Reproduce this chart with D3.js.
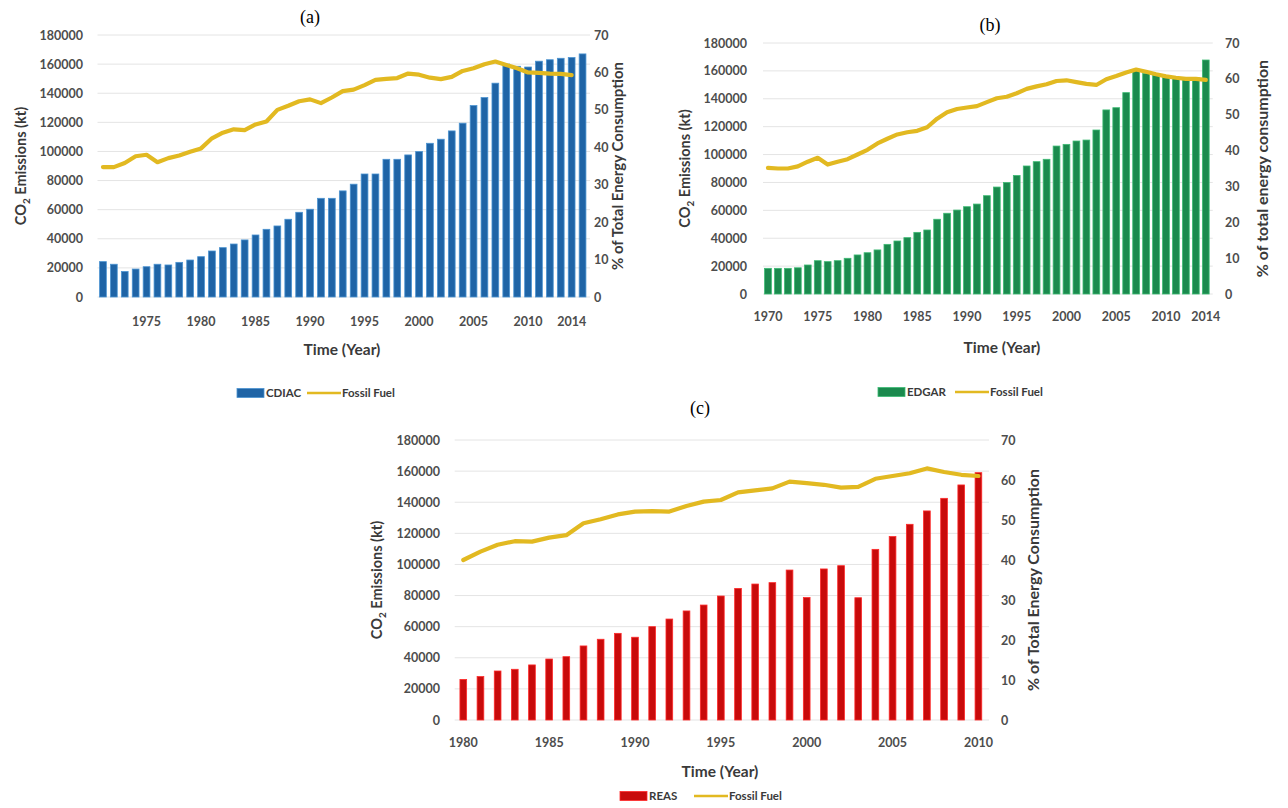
<!DOCTYPE html>
<html><head><meta charset="utf-8">
<script src="https://cdn.jsdelivr.net/npm/d3@7"></script>
<style>body{margin:0;background:#fff}</style>
</head><body>
<svg id="c" width="1288" height="808"></svg>
<script>
// ---------- DATA ----------
const cdiacYears = [1971,1972,1973,1974,1975,1976,1977,1978,1979,1980,1981,1982,1983,1984,1985,1986,1987,1988,1989,1990,1991,1992,1993,1994,1995,1996,1997,1998,1999,2000,2001,2002,2003,2004,2005,2006,2007,2008,2009,2010,2011,2012,2013,2014,2015];
const cdiacValues = [24300,22500,17500,19200,20800,22500,22000,23800,25400,27700,31600,33900,36400,39200,42600,46500,48800,53400,58200,60300,67800,67800,72900,77500,84500,84500,94600,94600,97600,99900,105600,108400,114100,119400,131500,137000,146900,160000,158500,158000,162000,163000,164000,164500,167000];
const fossilYearsA = [1971,1972,1973,1974,1975,1976,1977,1978,1979,1980,1981,1982,1983,1984,1985,1986,1987,1988,1989,1990,1991,1992,1993,1994,1995,1996,1997,1998,1999,2000,2001,2002,2003,2004,2005,2006,2007,2008,2009,2010,2011,2012,2013,2014];
const fossilA = [34.7,34.7,35.8,37.6,38.0,36.0,37.1,37.8,38.8,39.7,42.4,43.9,44.8,44.6,46.1,46.9,50.0,51.1,52.3,52.8,51.8,53.3,55.0,55.4,56.6,58.0,58.3,58.5,59.7,59.4,58.6,58.2,58.8,60.4,61.1,62.2,62.9,62.0,61.1,60.0,59.9,59.7,59.6,59.3];
const ticksA = [1975,1980,1985,1990,1995,2000,2005,2010,2014];

const edgarYears = [1970,1971,1972,1973,1974,1975,1976,1977,1978,1979,1980,1981,1982,1983,1984,1985,1986,1987,1988,1989,1990,1991,1992,1993,1994,1995,1996,1997,1998,1999,2000,2001,2002,2003,2004,2005,2006,2007,2008,2009,2010,2011,2012,2013,2014];
const edgarValues = [18400,18400,18400,18800,20800,23900,23200,23900,25600,28000,29600,31600,35600,38000,40400,44200,45900,53600,57900,60200,62600,64500,70500,76700,79900,85000,91800,94900,96600,106100,107300,109700,110400,117600,132000,133600,144400,161100,158200,157000,155800,154700,153900,155000,167800];
const fossilB = [35.2,35.0,35.0,35.6,36.9,38.0,36.1,36.9,37.6,38.9,40.2,42.0,43.3,44.5,45.1,45.5,46.5,48.9,50.7,51.6,52.0,52.4,53.5,54.6,55.0,56.0,57.2,57.9,58.5,59.4,59.6,59.1,58.6,58.3,59.9,60.8,61.8,62.6,62.0,61.3,60.7,60.3,60.0,60.0,59.7];
const ticksB = [1970,1975,1980,1985,1990,1995,2000,2005,2010,2014];

const reasYears = [1980,1981,1982,1983,1984,1985,1986,1987,1988,1989,1990,1991,1992,1993,1994,1995,1996,1997,1998,1999,2000,2001,2002,2003,2004,2005,2006,2007,2008,2009,2010];
const reasValues = [26100,27900,31500,32600,35400,39200,40700,47600,51900,55700,53200,60000,64900,70100,73900,79700,84600,87400,88300,96400,78700,97100,99200,78600,109700,117900,125800,134400,142500,151100,159000];
const fossilC = [40.0,42.1,43.8,44.7,44.6,45.6,46.2,49.2,50.2,51.4,52.1,52.2,52.1,53.5,54.6,55.0,56.9,57.4,57.9,59.6,59.2,58.8,58.1,58.3,60.3,61.0,61.7,62.9,62.0,61.3,61.0];
const ticksC = [1980,1985,1990,1995,2000,2005,2010];

const leftTicks = [0,20000,40000,60000,80000,100000,120000,140000,160000,180000];
const rightTicks = [0,10,20,30,40,50,60,70];

// ---------- DRAW ----------
const svg = d3.select("#c");
const SANS = "Lato, 'Open Sans', sans-serif";
const LINE_COLOR = "#e2b921";
const TICK_COLOR = "#4d4d4d";
const TITLE_COLOR = "#3a3a3a";

function panel(o) {
  const g = svg.append("g");
  const x = d3.scaleBand().domain(o.years).range([o.x0, o.x1]).paddingInner(o.pad).paddingOuter(o.pad / 2);
  const y = d3.scaleLinear().domain([0, 180000]).range([o.yBot, o.yTop]);
  const y2 = d3.scaleLinear().domain([0, 70]).range([o.yBot, o.yTop]);

  g.append("g").selectAll("line").data(leftTicks).join("line")
    .attr("x1", o.x0).attr("x2", o.x1 + 2)
    .attr("y1", d => y(d)).attr("y2", d => y(d))
    .attr("stroke", "#e4e4e4").attr("stroke-width", 1);

  g.append("g").selectAll("rect").data(o.values).join("rect")
    .attr("x", (d, i) => x(o.years[i]))
    .attr("width", x.bandwidth())
    .attr("y", d => y(d))
    .attr("height", d => o.yBot - y(d))
    .attr("fill", o.fill).attr("stroke", o.edge).attr("stroke-width", 0.8);

  const line = d3.line()
    .x((d, i) => x(o.lineYears[i]) + x.bandwidth() / 2)
    .y(d => y2(d)).curve(d3.curveLinear);
  g.append("path").datum(o.line).attr("d", line)
    .attr("fill", "none").attr("stroke", LINE_COLOR).attr("stroke-width", 4.2)
    .attr("stroke-linejoin", "round").attr("stroke-linecap", "round");

  const styleTicks = sel => sel.selectAll("text").attr("font-family", SANS).attr("font-weight", 700)
    .attr("font-size", 12.5).attr("fill", TICK_COLOR);

  const la = g.append("g").attr("transform", `translate(${o.leftLabelX},0)`)
    .call(d3.axisLeft(y).tickValues(leftTicks).tickSize(0).tickPadding(0).tickFormat(d3.format("d")));
  la.select(".domain").remove(); styleTicks(la);

  const ra = g.append("g").attr("transform", `translate(${o.rightLabelX},0)`)
    .call(d3.axisRight(y2).tickValues(rightTicks).tickSize(0).tickPadding(0));
  ra.select(".domain").remove(); styleTicks(ra);

  const ba = g.append("g").attr("transform", `translate(0,${o.yBot})`)
    .call(d3.axisBottom(x).tickValues(o.ticks).tickSize(0).tickPadding(o.xPad));
  ba.select(".domain").remove(); styleTicks(ba);

  const yt = g.append("text")
    .attr("transform", `translate(${o.yTitleX},${(o.yTop + o.yBot) / 2}) rotate(-90)`)
    .attr("text-anchor", "middle").attr("font-family", SANS).attr("font-weight", 700)
    .attr("font-size", 14.5).attr("fill", TITLE_COLOR);
  yt.append("tspan").text("CO");
  yt.append("tspan").text("2").attr("font-size", 10).attr("dy", 4);
  yt.append("tspan").text(" Emissions (kt)").attr("dy", -4);

  g.append("text")
    .attr("transform", `translate(${o.rTitleX},${(o.yTop + o.yBot) / 2}) rotate(-90)`)
    .attr("text-anchor", "middle").attr("font-family", SANS).attr("font-weight", 700)
    .attr("font-size", o.rSize).attr("fill", TITLE_COLOR).text(o.rTitle);

  g.append("text").attr("x", o.xTitle[0]).attr("y", o.xTitle[1])
    .attr("text-anchor", "middle").attr("font-family", SANS).attr("font-weight", 700)
    .attr("font-size", 15.5).attr("fill", TITLE_COLOR).text("Time (Year)");

  g.append("text").attr("x", o.letter[0]).attr("y", o.letter[1])
    .attr("text-anchor", "middle").attr("font-family", "'Liberation Serif', serif")
    .attr("font-size", 18).attr("fill", "#000").text(o.letterText);

  const L = o.legend;
  g.append("rect").attr("x", L.x).attr("y", L.y - 4.5).attr("width", 27).attr("height", 9)
    .attr("fill", o.fill).attr("stroke", o.edge).attr("stroke-width", 0.8);
  g.append("text").attr("x", L.x + 29).attr("y", L.y + 4).attr("font-family", SANS)
    .attr("font-weight", 700).attr("font-size", 11.5).attr("fill", TITLE_COLOR).text(o.name);
  g.append("line").attr("x1", L.lx).attr("x2", L.lx + 34).attr("y1", L.y).attr("y2", L.y)
    .attr("stroke", LINE_COLOR).attr("stroke-width", 2.5);
  g.append("text").attr("x", L.lx + 35).attr("y", L.y + 4).attr("font-family", SANS)
    .attr("font-weight", 700).attr("font-size", 11.5).attr("fill", TITLE_COLOR).text("Fossil Fuel");
}

panel({
  years: cdiacYears, values: cdiacValues, lineYears: fossilYearsA, line: fossilA, ticks: ticksA,
  x0: 97.5, x1: 588, yTop: 35, yBot: 297, pad: 0.38,
  fill: "#1f64a6", edge: "#4b93d1", name: "CDIAC",
  leftLabelX: 83, rightLabelX: 594, xPad: 20,
  yTitleX: 26, rTitleX: 623, rTitle: "% of Total Energy Consumption", rSize: 15,
  xTitle: [342, 355], letter: [310, 23], letterText: "(a)",
  legend: {x: 237, lx: 307, y: 393}
});

panel({
  years: edgarYears, values: edgarValues, lineYears: edgarYears, line: fossilB, ticks: ticksB,
  x0: 763, x1: 1210.75, yTop: 43, yBot: 294, pad: 0.32,
  fill: "#1b8a4e", edge: "#3dbb74", name: "EDGAR",
  leftLabelX: 747, rightLabelX: 1225, xPad: 18,
  yTitleX: 690, rTitleX: 1268, rTitle: "% of total energy consumption", rSize: 16,
  xTitle: [1002, 353], letter: [990, 31], letterText: "(b)",
  legend: {x: 878, lx: 955, y: 392}
});

panel({
  years: reasYears, values: reasValues, lineYears: reasYears, line: fossilC, ticks: ticksC,
  x0: 454.7, x1: 987, yTop: 440, yBot: 720, pad: 0.61,
  fill: "#c80b0b", edge: "#ff2a2a", name: "REAS",
  leftLabelX: 440, rightLabelX: 1001, xPad: 18,
  yTitleX: 382, rTitleX: 1039, rTitle: "% of Total Energy Consumption", rSize: 16,
  xTitle: [720, 777], letter: [700, 414], letterText: "(c)",
  legend: {x: 620, lx: 694, y: 796}
});
</script>
</body></html>
